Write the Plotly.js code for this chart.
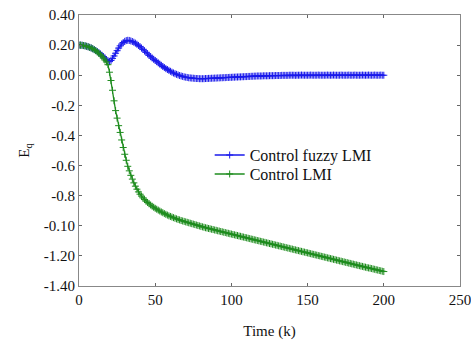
<!DOCTYPE html>
<html>
<head>
<meta charset="utf-8">
<script src="https://cdn.plot.ly/plotly-3.0.1.min.js"></script>
<style>html,body{margin:0;padding:0;background:#fff;}#chart{width:471px;height:343px;}</style>
</head>
<body>
<div id="chart"></div>
<script>
const timeK = [0,1,2,3,4,5,6,7,8,9,10,11,12,13,14,15,16,17,18,19,20,21,22,23,24,25,26,27,28,29,30,31,32,33,34,35,36,37,38,39,40,41,42,43,44,45,46,47,48,49,50,51,52,53,54,55,56,57,58,59,60,61,62,63,64,65,66,67,68,69,70,71,72,73,74,75,76,77,78,79,80,81,82,83,84,85,86,87,88,89,90,91,92,93,94,95,96,97,98,99,100,101,102,103,104,105,106,107,108,109,110,111,112,113,114,115,116,117,118,119,120,121,122,123,124,125,126,127,128,129,130,131,132,133,134,135,136,137,138,139,140,141,142,143,144,145,146,147,148,149,150,151,152,153,154,155,156,157,158,159,160,161,162,163,164,165,166,167,168,169,170,171,172,173,174,175,176,177,178,179,180,181,182,183,184,185,186,187,188,189,190,191,192,193,194,195,196,197,198,199,200];

const fuzzyLMI = [0.200,0.200,0.199,0.197,0.195,0.192,0.189,0.185,0.181,0.176,0.170,0.164,0.157,0.150,0.142,0.133,0.124,0.114,0.104,0.095,0.090,0.098,0.112,0.128,0.146,0.163,0.180,0.195,0.207,0.217,0.225,0.230,0.232,0.231,0.228,0.224,0.219,0.213,0.206,0.198,0.190,0.181,0.172,0.162,0.152,0.142,0.132,0.123,0.114,0.106,0.098,0.090,0.082,0.074,0.066,0.058,0.051,0.044,0.038,0.032,0.026,0.020,0.015,0.010,0.006,0.002,-0.002,-0.005,-0.008,-0.011,-0.013,-0.015,-0.017,-0.018,-0.019,-0.020,-0.021,-0.022,-0.022,-0.023,-0.023,-0.023,-0.023,-0.022,-0.022,-0.021,-0.021,-0.020,-0.020,-0.019,-0.019,-0.018,-0.018,-0.017,-0.017,-0.016,-0.016,-0.015,-0.015,-0.014,-0.014,-0.013,-0.013,-0.012,-0.012,-0.011,-0.011,-0.010,-0.010,-0.009,-0.009,-0.008,-0.008,-0.007,-0.007,-0.006,-0.006,-0.005,-0.005,-0.005,-0.005,-0.004,-0.004,-0.004,-0.004,-0.003,-0.003,-0.003,-0.003,-0.002,-0.002,-0.002,-0.002,-0.001,-0.001,-0.001,-0.001,-0.001,0.000,0.000,0.000,0.000,-0.001,0.000,0.000,0.000,0.001,0.000,0.000,0.000,0.000,0.000,0.001,0.000,0.000,0.000,0.000,0.001,0.000,0.000,0.000,0.000,0.000,0.001,0.000,0.000,0.000,0.001,0.000,0.000,0.000,0.000,0.001,0.000,0.000,0.000,0.000,0.001,0.000,0.000,0.000,0.001,0.000,0.000,0.000,0.000,0.001,0.000,0.000,0.000,0.001,0.000,0.000,0.000,0.001,0.000,0.000,0.000,0.001,0.000,0.000];

const controlLMI = [0.200,0.200,0.199,0.197,0.195,0.192,0.189,0.185,0.181,0.176,0.170,0.163,0.155,0.146,0.136,0.126,0.114,0.101,0.088,0.070,0.020,-0.035,-0.100,-0.170,-0.235,-0.285,-0.335,-0.380,-0.430,-0.480,-0.525,-0.565,-0.605,-0.635,-0.665,-0.690,-0.715,-0.737,-0.757,-0.775,-0.790,-0.803,-0.815,-0.826,-0.836,-0.845,-0.854,-0.862,-0.870,-0.877,-0.884,-0.890,-0.896,-0.902,-0.908,-0.913,-0.919,-0.924,-0.929,-0.934,-0.938,-0.942,-0.946,-0.950,-0.954,-0.958,-0.961,-0.965,-0.968,-0.971,-0.974,-0.977,-0.980,-0.983,-0.986,-0.989,-0.992,-0.995,-0.998,-1.001,-1.004,-1.007,-1.010,-1.013,-1.015,-1.018,-1.020,-1.023,-1.025,-1.028,-1.030,-1.033,-1.035,-1.038,-1.040,-1.043,-1.045,-1.048,-1.050,-1.053,-1.055,-1.058,-1.060,-1.063,-1.065,-1.068,-1.070,-1.073,-1.075,-1.078,-1.080,-1.083,-1.085,-1.088,-1.090,-1.093,-1.095,-1.098,-1.100,-1.103,-1.105,-1.108,-1.110,-1.113,-1.115,-1.118,-1.120,-1.123,-1.125,-1.128,-1.130,-1.133,-1.135,-1.138,-1.140,-1.143,-1.145,-1.148,-1.150,-1.153,-1.155,-1.158,-1.160,-1.163,-1.165,-1.168,-1.170,-1.173,-1.175,-1.178,-1.180,-1.183,-1.185,-1.188,-1.190,-1.193,-1.195,-1.198,-1.200,-1.203,-1.205,-1.208,-1.210,-1.213,-1.215,-1.218,-1.220,-1.223,-1.225,-1.228,-1.230,-1.233,-1.235,-1.238,-1.240,-1.243,-1.245,-1.248,-1.250,-1.253,-1.255,-1.258,-1.260,-1.263,-1.265,-1.268,-1.270,-1.273,-1.275,-1.278,-1.280,-1.282,-1.284,-1.287,-1.289,-1.292,-1.294,-1.297,-1.299,-1.302,-1.304];

const seriesNames = ['Control fuzzy LMI', 'Control LMI'];
const yTickVals = [0.4,0.2,0,-0.2,-0.4,-0.6,-0.8,-1.0,-1.2,-1.4];
const yTickText = ['0.40','0.20','0.00','-0.2','-0.4','-0.6','-0.8','-0.10','-1.20','-1.40'];
const xTickVals = [0,50,100,150,200,250];

const blue = 'rgb(25,25,235)';
const green = 'rgb(30,140,30)';

const traces = [
  {x: timeK, y: fuzzyLMI, name: seriesNames[0], type: 'scatter', mode: 'lines+markers', legend: 'legend',
   line: {color: blue, width: 1.3},
   marker: {symbol: 'cross-thin', size: 5, color: blue, line: {color: blue, width: 1}}},
  {x: timeK, y: controlLMI, name: seriesNames[1], type: 'scatter', mode: 'lines+markers', legend: 'legend2',
   line: {color: green, width: 1.3},
   marker: {symbol: 'cross-thin', size: 5, color: green, line: {color: green, width: 1}}}
];

const fontFam = '"Liberation Serif", "Times New Roman", serif';
const legendBase = {xanchor: 'left', yanchor: 'middle', bgcolor: 'rgba(0,0,0,0)',
                    font: {family: fontFam, size: 16, color: '#111'}};
const layout = {
  width: 471, height: 343,
  margin: {l: 79, r: 11, t: 15, b: 57},
  paper_bgcolor: '#fff', plot_bgcolor: '#fff',
  font: {family: fontFam, size: 15, color: '#111'},
  showlegend: true,
  legend: Object.assign({x: 0.343, y: 0.483}, legendBase),
  legend2: Object.assign({x: 0.343, y: 0.413}, legendBase),
  xaxis: {range: [0, 250], tickvals: xTickVals, ticks: 'inside', ticklen: 3, tickcolor: '#666',
          showline: true, linecolor: '#888', linewidth: 1, mirror: 'ticks', showgrid: false, zeroline: false,
          ticklabeloverflow: 'allow',
          title: {text: 'Time (k)', font: {family: fontFam, size: 15}, standoff: 18},
          tickfont: {family: fontFam, size: 15}},
  yaxis: {range: [-1.4, 0.4], tickvals: yTickVals, ticktext: yTickText, ticks: 'inside', ticklen: 3, tickcolor: '#666',
          showline: true, linecolor: '#888', linewidth: 1, mirror: 'ticks', showgrid: false, zeroline: false,
          ticklabeloverflow: 'allow',
          title: {text: 'E<sub>q</sub>', font: {family: fontFam, size: 15}, standoff: 10},
          tickfont: {family: fontFam, size: 15}}
};

Plotly.newPlot('chart', traces, layout, {staticPlot: true, displayModeBar: false});
</script>
</body>
</html>
